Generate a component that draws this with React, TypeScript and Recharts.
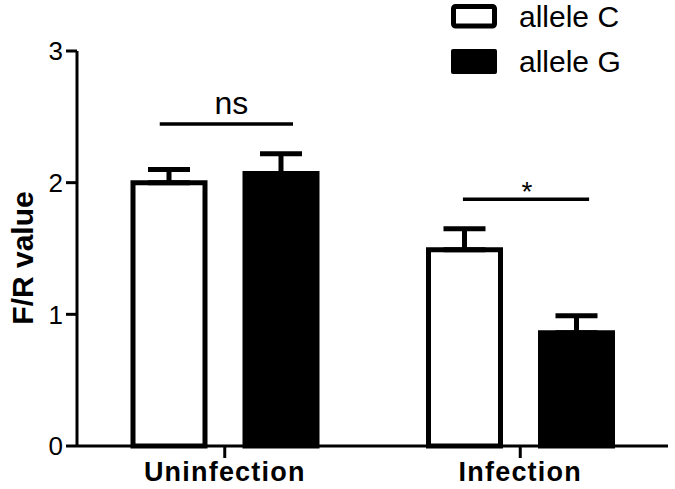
import React from 'react';
import { BarChart, Bar, XAxis, YAxis, ErrorBar, ReferenceLine, Legend } from 'recharts';

const categories = ['Uninfection', 'Infection'];
const categoryPos = [0.5, 1.5];
const alleleC = [2.0, 1.49];
const alleleCErr = [0.1, 0.16];
const alleleG = [2.07, 0.86];
const alleleGErr = [0.15, 0.13];
const yTicks = [0, 1, 2, 3];

const sigLabels = ['ns', '*'];
const sigY = [2.445, 1.875];
const sigX1 = [0.28, 1.306];
const sigX2 = [0.731, 1.733];
const sigFont = [32, 28];
const sigDx = [5, 1];
const sigDy = [-10, 2];

const FONT = '"Liberation Sans", Arial, Helvetica, sans-serif';

const data = categories.map((name, i) => ({
  name,
  pos: categoryPos[i],
  c: alleleC[i],
  cErr: [0, alleleCErr[i]],
  g: alleleG[i],
  gErr: [0, alleleGErr[i]],
}));

const LegendContent = (props: any) => {
  const payload = props.payload || [];
  return (
    <svg width={230} height={85} style={{ display: 'block' }}>
      {payload.map((p: any, i: number) => {
        const filled = i === 1;
        const top = i === 0 ? 4 : 49;
        return (
          <g key={i}>
            {filled ? (
              <rect x={6} y={top} width={46} height={25} rx={2} fill="#000" />
            ) : (
              <rect x={8.5} y={top + 2.5} width={41} height={19.5} rx={2} fill="#fff" stroke="#000" strokeWidth={5} />
            )}
            <text x={74} y={top + 23} fontSize={30} fontFamily={FONT} fill="#000">
              {p.value}
            </text>
          </g>
        );
      })}
    </svg>
  );
};

const makeSigLabel = (i: number) => (props: any) => {
  const vb = props.viewBox || {};
  let cx: number;
  let cy: number;
  if (vb.x1 !== undefined) {
    cx = (vb.x1 + vb.x2) / 2;
    cy = Math.min(vb.y1, vb.y2);
  } else {
    cx = vb.x + (vb.width || 0) / 2;
    cy = vb.y;
  }
  return (
    <text
      x={cx + sigDx[i]}
      y={cy + sigDy[i]}
      textAnchor="middle"
      fontSize={sigFont[i]}
      fontFamily={FONT}
      fill="#000"
    >
      {sigLabels[i]}
    </text>
  );
};

const YLabel = () => (
  <text
    x={22}
    y={258}
    transform="rotate(-90 22 258)"
    textAnchor="middle"
    dominantBaseline="central"
    fontSize={30}
    fontWeight="bold"
    fontFamily={FONT}
    fill="#000"
  >
    F/R value
  </text>
);

export default function App() {
  return (
    <div style={{ position: 'absolute', left: 0, top: 0, background: '#fff' }}>
      <BarChart
        width={675}
        height={489}
        data={data}
        margin={{ top: 51, right: 7, bottom: 0, left: 0 }}
        barSize={72}
        barGap={40}
      >
        <XAxis
          dataKey="pos"
          type="number"
          domain={[0, 2]}
          ticks={categoryPos}
          tickFormatter={(v: number) => categories[Math.floor(v)]}
          allowDataOverflow
          height={43}
          axisLine={{ stroke: '#000', strokeWidth: 3 }}
          tickLine={{ stroke: '#000', strokeWidth: 3 }}
          tickSize={12}
          tickMargin={4}
          tick={{ fill: '#000', fontSize: 27, fontWeight: 'bold', fontFamily: FONT, letterSpacing: 1.2 }}
          interval={0}
        />
        <YAxis
          width={77}
          domain={[0, 3]}
          ticks={yTicks}
          interval={0}
          axisLine={{ stroke: '#000', strokeWidth: 3 }}
          tickLine={{ stroke: '#000', strokeWidth: 3 }}
          tickSize={11}
          tickMargin={3}
          tick={{ fill: '#000', fontSize: 26, fontFamily: FONT }}
          label={{ content: () => <YLabel /> }}
        />
        <Legend
          layout="vertical"
          align="center"
          verticalAlign="middle"
          wrapperStyle={{ left: 445, top: 0, width: 230, height: 85 }}
          content={<LegendContent />}
        />
        <Bar dataKey="c" name="allele C" fill="#fff" stroke="#000" strokeWidth={5} isAnimationActive={false}>
          <ErrorBar dataKey="cErr" width={21} stroke="#000" strokeWidth={5} direction="y" />
        </Bar>
        <Bar dataKey="g" name="allele G" fill="#000" stroke="#000" strokeWidth={5} isAnimationActive={false}>
          <ErrorBar dataKey="gErr" width={21} stroke="#000" strokeWidth={5} direction="y" />
        </Bar>
        {sigLabels.map((l, i) => (
          <ReferenceLine
            key={l}
            segment={[
              { x: sigX1[i], y: sigY[i] },
              { x: sigX2[i], y: sigY[i] },
            ]}
            stroke="#000"
            strokeWidth={3.5}
            ifOverflow="visible"
            label={makeSigLabel(i)}
          />
        ))}
      </BarChart>
    </div>
  );
}
